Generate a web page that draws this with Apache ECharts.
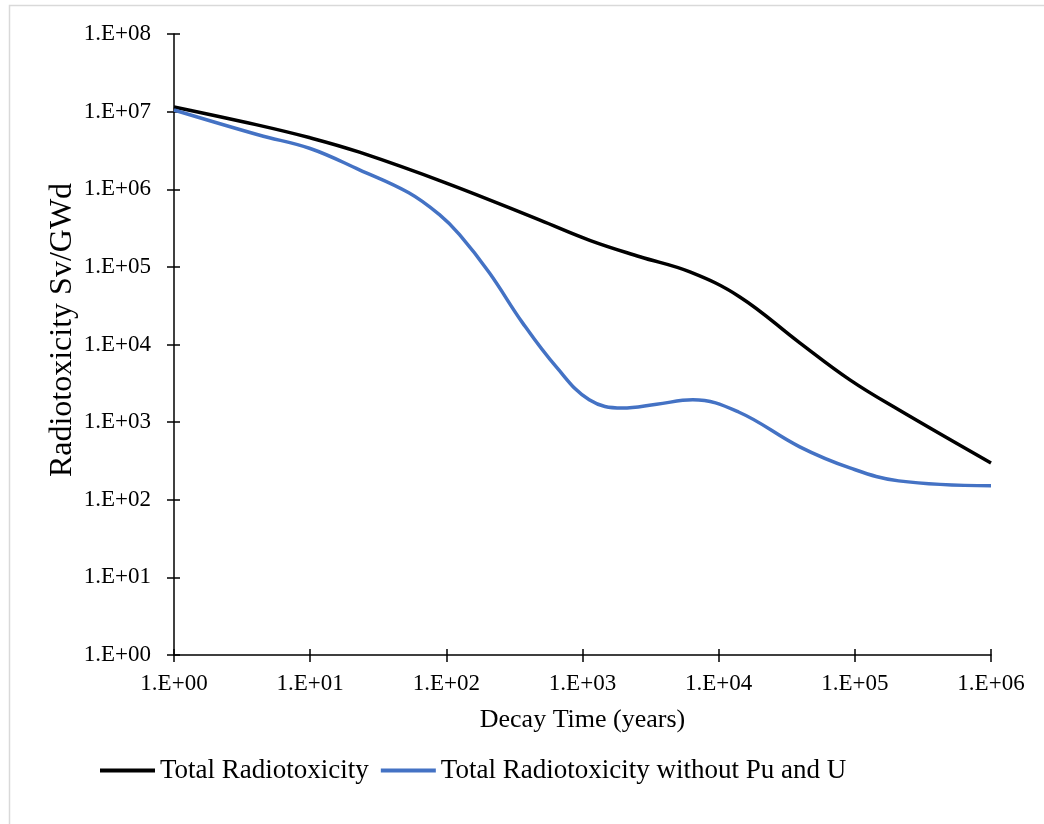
<!DOCTYPE html>
<html>
<head>
<meta charset="utf-8">
<script src="https://cdn.jsdelivr.net/npm/echarts@6/dist/echarts.min.js"></script>
<style>html,body{margin:0;padding:0;background:#fff}#c{width:1044px;height:824px}</style>
</head>
<body>
<div id="c"></div>
<script>
// Decay time (years) and radiotoxicity (Sv/GWd)
var totalTime = [1, 4, 10, 23, 100, 487, 1130, 2640, 6150, 14300, 39400, 92000, 210000, 1000000];
var totalValue = [1.15e7, 6.8e6, 4.6e6, 3.0e6, 1.2e6, 4.0e5, 2.2e5, 1.35e5, 8.6e4, 4.1e4, 1.05e4, 3.5e3, 1.44e3, 297];
var noPuUTime = [1, 4.2, 10, 23, 53, 89, 125, 207, 363, 644, 1120, 1960, 3500, 6450, 14000, 39400, 92000, 210000, 1000000];
var noPuUValue = [1.05e7, 5.0e6, 3.35e6, 1.78e6, 9.0e5, 4.7e5, 2.6e5, 8.4e4, 1.9e4, 5.1e3, 1.94e3, 1.52e3, 1.7e3, 1.94e3, 1.35e3, 480, 257, 175, 151];
var seriesNames = ['Total Radiotoxicity', 'Total Radiotoxicity without Pu and U'];
var xTitle = 'Decay Time (years)';
var yTitle = 'Radiotoxicity Sv/GWd';

function pairs(t, v) { return t.map(function (x, i) { return [x, v[i]]; }); }
function expLabel(val) {
  var e = Math.round(Math.log10(val));
  return '1.E+' + (e < 10 ? '0' : '') + e;
}
var FONT = '"Liberation Serif", "Times New Roman", serif';

var chart = echarts.init(document.getElementById('c'), null, { renderer: 'canvas' });
var baseX = {
  type: 'log', logBase: 10, min: 1, max: 1e6, splitLine: { show: false }
};
var baseY = {
  type: 'log', logBase: 10, min: 1, max: 1e8, splitLine: { show: false }
};
chart.setOption({
  animation: false,
  backgroundColor: '#fff',
  grid: { left: 174, right: 53, top: 34, bottom: 169, containLabel: false },
  graphic: [
    { type: 'rect', shape: { x: 9.5, y: 5.5, width: 1100, height: 900 }, style: { fill: 'none', stroke: '#d9d9d9', lineWidth: 1.5 }, silent: true },
    { type: 'text', x: 63, y: 330, rotation: Math.PI / 2,
      style: { text: yTitle, font: '32px ' + FONT, fill: '#000', align: 'center', verticalAlign: 'middle' } }
  ],
  xAxis: [
    Object.assign({}, baseX, {
      position: 'bottom',
      axisLine: { show: true, lineStyle: { color: '#000', width: 1.5 } },
      axisTick: { show: true, length: 7, lineStyle: { color: '#000', width: 1.5 } },
      axisLabel: { show: true, formatter: expLabel, color: '#000', fontFamily: FONT, fontSize: 23, margin: 17 },
      name: xTitle, nameLocation: 'middle', nameGap: 52,
      nameTextStyle: { color: '#000', fontFamily: FONT, fontSize: 26 }
    }),
    Object.assign({}, baseX, {
      position: 'bottom',
      axisLine: { show: false },
      axisTick: { show: true, inside: true, length: 6, lineStyle: { color: '#000', width: 1.5 } },
      axisLabel: { show: false }
    })
  ],
  yAxis: [
    Object.assign({}, baseY, {
      position: 'left',
      axisLine: { show: true, lineStyle: { color: '#000', width: 1.5 } },
      axisTick: { show: true, length: 7, lineStyle: { color: '#000', width: 1.5 } },
      axisLabel: { show: true, formatter: expLabel, color: '#000', fontFamily: FONT, fontSize: 23, margin: 23 }
    }),
    Object.assign({}, baseY, {
      position: 'left',
      axisLine: { show: false },
      axisTick: { show: true, inside: true, length: 6, lineStyle: { color: '#000', width: 1.5 } },
      axisLabel: { show: false }
    })
  ],
  legend: {
    left: 100, top: 757, padding: 0,
    icon: 'rect', itemWidth: 55, itemHeight: 4, itemGap: 12,
    textStyle: { color: '#000', fontFamily: FONT, fontSize: 27 },
    data: seriesNames
  },
  series: [
    { name: seriesNames[0], type: 'line', xAxisIndex: 0, yAxisIndex: 0, data: pairs(totalTime, totalValue),
      smooth: 0.4, showSymbol: false, symbol: 'none', lineStyle: { color: '#000000', width: 3.5 }, itemStyle: { color: '#000000' } },
    { name: seriesNames[1], type: 'line', xAxisIndex: 0, yAxisIndex: 0, data: pairs(noPuUTime, noPuUValue),
      smooth: 0.4, showSymbol: false, symbol: 'none', lineStyle: { color: '#4472C4', width: 3.5 }, itemStyle: { color: '#4472C4' } }
  ]
});
</script>
</body>
</html>
